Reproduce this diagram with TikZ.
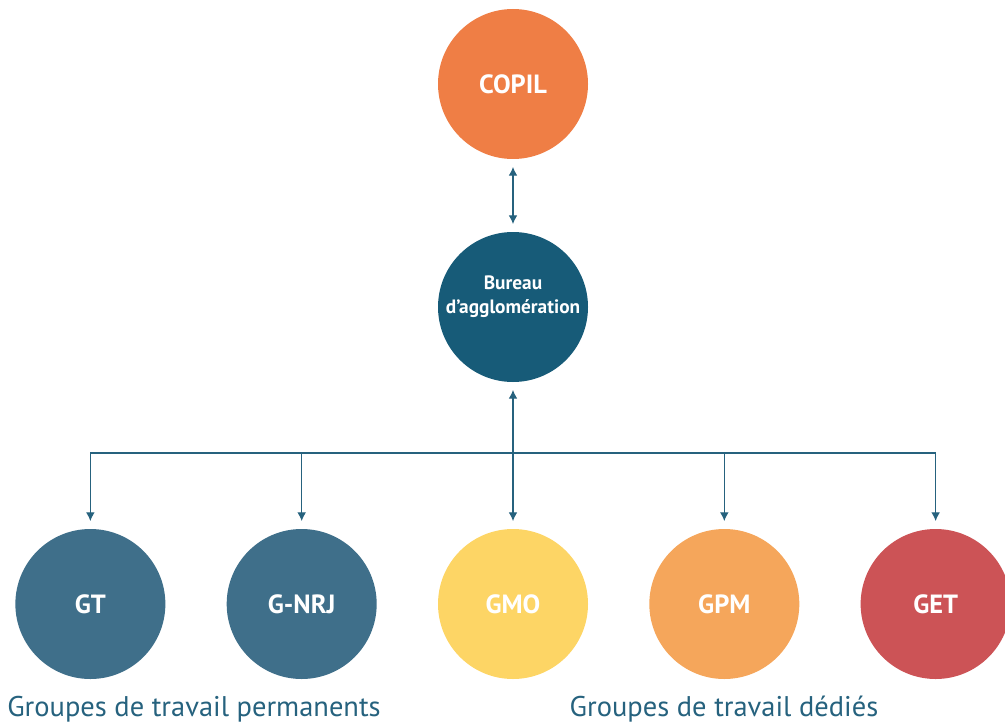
\documentclass[tikz,border=0pt]{standalone}
\usepackage{fontspec}
\setmainfont{PT Sans}
\usepackage{tikz}
\usetikzlibrary{shapes,arrows.meta,positioning}
\definecolor{copilorange}{RGB}{239,126,69}
\definecolor{bureaublue}{RGB}{23,91,120}
\definecolor{permblue}{RGB}{63,111,138}
\definecolor{gmoyellow}{RGB}{253,213,101}
\definecolor{gpmorange}{RGB}{245,166,91}
\definecolor{getred}{RGB}{204,83,86}
\definecolor{linkblue}{RGB}{38,98,126}

\begin{document}
\begin{tikzpicture}[node distance=0.91cm, >={Latex[length=5pt,width=5pt]}]
\tikzset{
  group/.style={circle, minimum size=3cm, inner sep=0pt, outer sep=4.5pt,
    text=white, font=\fontsize{15}{17}\selectfont\bfseries},
  link/.style={draw=linkblue, line width=0.7pt},
  caption/.style={text=linkblue, font=\fontsize{16.2}{19}\selectfont}
}
\useasboundingbox (0,0) rectangle (20.1,14.48);

% Nodes
\node[group, fill=copilorange] (copil) at (10.26,12.8) {COPIL};
\node[group, fill=bureaublue, align=center, font=\fontsize{11}{13.8}\selectfont\bfseries]
  (bureau) at (10.26,8.34) {Bureau\\d’agglomération\\~};

\node[group, fill=gmoyellow] (gmo) at (10.26,2.4) {GMO};
\node[group, fill=permblue, left=of gmo] (gnrj) {G-NRJ};
\node[group, fill=permblue, left=of gnrj] (gt) {GT};
\node[group, fill=gpmorange, right=of gmo] (gpm) {GPM};
\node[group, fill=getred, right=of gpm] (get) {GET};

% Captions
\node[caption] (perm) at (3.88,0.3) {Groupes de travail permanents};
\node[caption] (dedie) at (14.48,0.3) {Groupes de travail dédiés};

% Arrows
\coordinate (hub) at (10.26,5.42);
\draw[link, <->] (copil) -- (bureau);
\draw[link, <->] (bureau) -- (gmo);
\draw[link, ->] (hub) -| (gt);
\draw[link, ->] (hub) -| (gnrj);
\draw[link, ->] (hub) -| (gpm);
\draw[link, ->] (hub) -| (get);
\end{tikzpicture}
\end{document}
